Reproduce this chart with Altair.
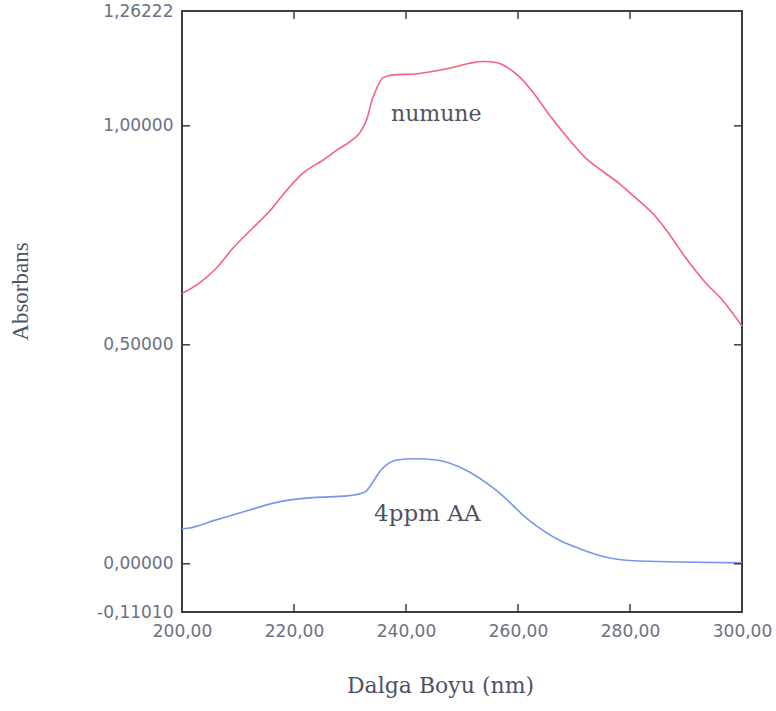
import altair as alt
import pandas as pd

# ---- data ----
red_nm = [200.0, 203.2, 206.2, 209.2, 212.5, 215.7, 218.1, 221.7, 225.2, 227.6,
          230.0, 231.8, 233.0, 233.9, 234.8, 235.9, 237.5, 242.0, 247.9, 251.4,
          253.8, 256.3, 258.5, 260.4, 262.7, 265.7, 269.3, 272.3, 274.6, 278.2,
          280.6, 284.2, 286.6, 290.1, 293.7, 296.1, 300.0]
red_abs = [0.617, 0.642, 0.676, 0.722, 0.765, 0.806, 0.844, 0.893, 0.922, 0.944,
           0.964, 0.985, 1.015, 1.057, 1.087, 1.110, 1.116, 1.119, 1.132, 1.143,
           1.147, 1.144, 1.130, 1.110, 1.076, 1.023, 0.966, 0.924, 0.901, 0.867,
           0.840, 0.798, 0.760, 0.696, 0.639, 0.608, 0.543]

blue_nm = [200.0, 201.0, 205.5, 211.6, 217.5, 223.4, 229.5, 232.7, 234.0, 235.4,
           238.4, 241.3, 245.5, 250.2, 256.2, 262.1, 267.5, 271.1, 275.8, 280.6,
           288.9, 300.0]
blue_abs = [0.080, 0.081, 0.098, 0.121, 0.142, 0.151, 0.155, 0.164, 0.185, 0.212,
            0.237, 0.240, 0.237, 0.217, 0.167, 0.098, 0.053, 0.034, 0.015, 0.007,
            0.004, 0.002]

series_names = ["numune", "4ppm AA"]
series_colors = ["#f8607c", "#7896ee"]
label_nm = [245.4, 243.8]
label_abs = [1.028, 0.113]

x_domain = [200, 300]
y_domain = [-0.1101, 1.26222]
x_label_values = [200, 220, 240, 260, 280, 300]
y_label_values = [-0.1101, 0.0, 0.5, 1.0, 1.26222]
x_tick_values = [220, 240, 260, 280]
y_tick_values = [0.0, 0.5, 1.0]

W, H = 560, 601
TICK = 8

lines_df = pd.concat([
    pd.DataFrame({"nm": red_nm, "A": red_abs, "series": series_names[0]}),
    pd.DataFrame({"nm": blue_nm, "A": blue_abs, "series": series_names[1]}),
], ignore_index=True)
labels_df = pd.DataFrame({"nm": label_nm, "A": label_abs, "series": series_names})
xt_df = pd.DataFrame({"nm": x_tick_values})
yt_df = pd.DataFrame({"A": y_tick_values})

FRAME = "#3c3c46"
LABEL = "#6b6f88"
TITLE = "#4f5366"

xs = alt.Scale(domain=x_domain, nice=False, zero=False)
ys = alt.Scale(domain=y_domain, nice=False, zero=False)

x_main = alt.Axis(
    values=x_label_values,
    labelExpr="replace(format(datum.value, '.2f'), '.', ',')",
    tickSize=0, domain=False, grid=False, labelFlush=False, labelOverlap=False,
    labelFont="DejaVu Sans", labelFontSize=17, labelColor=LABEL, labelPadding=11,
    title="Dalga Boyu (nm)", titleFont="DejaVu Serif", titleFontSize=22,
    titleFontWeight="normal", titleColor=TITLE, titleX=258, titleY=73,
    titleBaseline="middle", titleAlign="center",
)
y_main = alt.Axis(
    values=y_label_values,
    labelExpr="replace(replace(format(datum.value, '.5f'), '.', ','), '\u2212', '-')",
    tickSize=0, domain=False, grid=False, labelFlush=False, labelOverlap=False,
    labelFont="DejaVu Sans", labelFontSize=17, labelColor=LABEL, labelPadding=9,
    title="Absorbans", titleFont="Liberation Serif", titleFontSize=23,
    titleFontWeight="normal", titleColor=TITLE, titleX=-162, titleY=280,
    titleBaseline="middle", titleAlign="center", titleAngle=270,
)

lines = alt.Chart(lines_df).mark_line(strokeWidth=1.6, interpolate="monotone").encode(
    x=alt.X("nm:Q", scale=xs, axis=x_main),
    y=alt.Y("A:Q", scale=ys, axis=y_main),
    color=alt.Color("series:N", scale=alt.Scale(domain=series_names, range=series_colors),
                    legend=None),
    detail="series:N",
)

lab1 = alt.Chart(labels_df).transform_filter(
    alt.datum.series == series_names[0]
).mark_text(font="DejaVu Serif", fontSize=22, color=TITLE, baseline="middle").encode(
    x=alt.X("nm:Q", scale=xs), y=alt.Y("A:Q", scale=ys), text="series:N",
)
lab2 = alt.Chart(labels_df).transform_filter(
    alt.datum.series == series_names[1]
).mark_text(font="DejaVu Serif", fontSize=23, color=TITLE, baseline="middle").encode(
    x=alt.X("nm:Q", scale=xs), y=alt.Y("A:Q", scale=ys), text="series:N",
)

# inward-pointing frame ticks (positions from the axis scales)
xt = alt.Chart(xt_df).mark_rule(color=FRAME, strokeWidth=1.5)
yt = alt.Chart(yt_df).mark_rule(color=FRAME, strokeWidth=1.5)
tick_bottom = xt.encode(x=alt.X("nm:Q", scale=xs), y=alt.value(H), y2=alt.value(H - TICK))
tick_top = xt.encode(x=alt.X("nm:Q", scale=xs), y=alt.value(0), y2=alt.value(TICK))
tick_left = yt.encode(y=alt.Y("A:Q", scale=ys), x=alt.value(0), x2=alt.value(TICK))
tick_right = yt.encode(y=alt.Y("A:Q", scale=ys), x=alt.value(W - TICK), x2=alt.value(W))

chart = alt.layer(lines, lab1, lab2, tick_bottom, tick_top, tick_left, tick_right).properties(
    width=W, height=H,
    autosize=alt.AutoSizeParams(type="none"),
    padding={"left": 182, "top": 11, "right": 34, "bottom": 99},
    background="white",
).configure_view(stroke=FRAME, strokeWidth=2)

chart.save("out.html", embed_options={"renderer": "svg", "actions": False})
